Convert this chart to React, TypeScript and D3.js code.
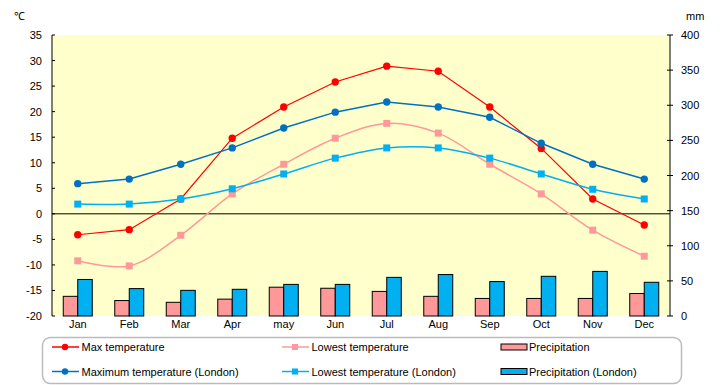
import React from "react";
import * as d3 from "d3";

const months = ["Jan", "Feb", "Mar", "Apr", "may", "Jun", "Jul", "Aug", "Sep", "Oct", "Nov", "Dec"];
const maxTemp = [-4.1, -3.1, 2.9, 14.8, 20.9, 25.8, 28.9, 27.9, 20.9, 12.8, 2.9, -2.2];
const minTemp = [-9.2, -10.2, -4.2, 3.9, 9.7, 14.8, 17.7, 15.8, 9.7, 3.9, -3.2, -8.3];
const maxLondon = [5.9, 6.8, 9.7, 12.9, 16.8, 19.9, 21.9, 20.9, 18.9, 13.8, 9.7, 6.8];
const minLondon = [1.9, 1.9, 2.9, 4.9, 7.8, 10.9, 12.9, 12.9, 10.9, 7.8, 4.8, 2.9];
const precip = [28, 22, 19.5, 24, 41, 39.5, 35, 28, 25, 25, 25, 32];
const precipLondon = [52, 39, 36.5, 38, 45, 45, 55, 59, 49, 56.5, 63.5, 48];
const tempTicks = [35, 30, 25, 20, 15, 10, 5, 0, -5, -10, -15, -20];
const mmTicks = [400, 350, 300, 250, 200, 150, 100, 50, 0];

const L = 52, R = 670, T = 35, B = 316;
const FONT = "'Liberation Sans', Arial, sans-serif";

export default function App() {
  const x = d3.scaleBand<string>().domain(months).range([L, R]).padding(0);
  const y = d3.scaleLinear().domain([-20, 35]).range([B, T]);
  const y2 = d3.scaleLinear().domain([0, 400]).range([B, T]);
  const cx = (i: number) => (x(months[i]) as number) + x.bandwidth() / 2;
  const bw = 14.5;

  const lineLin = d3.line<number>().x((_, i) => cx(i)).y((d) => y(d)).curve(d3.curveLinear);
  const lineSmooth = d3.line<number>().x((_, i) => cx(i)).y((d) => y(d)).curve(d3.curveCatmullRom.alpha(0.5));

  const series = [
    { data: maxTemp, color: "#FF0000", w: 1.2, shape: "circle", smooth: false },
    { data: minTemp, color: "#FF9999", w: 1.5, shape: "square", smooth: true },
    { data: maxLondon, color: "#0070C0", w: 1.5, shape: "circle", smooth: false },
    { data: minLondon, color: "#00B0F0", w: 1.5, shape: "square", smooth: true },
  ];

  const legend = [
    { label: "Max temperature", color: "#FF0000", type: "circle", x: 52, y: 347 },
    { label: "Lowest temperature", color: "#FF9999", type: "square", x: 282, y: 347 },
    { label: "Precipitation", color: "#FF9999", type: "rect", x: 501, y: 347 },
    { label: "Maximum temperature (London)", color: "#0070C0", type: "circle", x: 52, y: 371.5 },
    { label: "Lowest temperature (London)", color: "#00B0F0", type: "square", x: 282, y: 371.5 },
    { label: "Precipitation (London)", color: "#00B0F0", type: "rect", x: 501, y: 371.5 },
  ];

  return (
    <svg width={720} height={385} style={{ position: "absolute", left: 0, top: 0, background: "#fff" }} fontFamily={FONT} fontSize={11}>
      <rect x={L} y={T} width={R - L} height={B - T} fill="#FFFFCC" />
      {/* bars */}
      {months.map((m, i) => (
        <g key={m}>
          <rect x={cx(i) - bw} y={y2(precip[i])} width={bw} height={B - y2(precip[i])} fill="#FF9999" stroke="#000" strokeWidth={1} />
          <rect x={cx(i)} y={y2(precipLondon[i])} width={bw} height={B - y2(precipLondon[i])} fill="#00B0F0" stroke="#000" strokeWidth={1} />
        </g>
      ))}
      {/* zero line */}
      <line x1={L} x2={R} y1={y(0)} y2={y(0)} stroke="#000" strokeWidth={1} />
      {/* axes */}
      <line x1={L} x2={L} y1={T} y2={B} stroke="#000" strokeWidth={1} />
      <line x1={R} x2={R} y1={T} y2={B} stroke="#000" strokeWidth={1} />
      {tempTicks.map((t) => (
        <g key={t}>
          <line x1={L} x2={L + 3} y1={y(t)} y2={y(t)} stroke="#000" />
          <text x={42} y={y(t) + 4} textAnchor="end">{t}</text>
        </g>
      ))}
      {mmTicks.map((t) => (
        <g key={t}>
          <line x1={R - 3} x2={R + 3} y1={y2(t)} y2={y2(t)} stroke="#000" />
          <text x={681} y={y2(t) + 4} textAnchor="start">{t}</text>
        </g>
      ))}
      {months.map((m, i) => (
        <text key={m} x={cx(i)} y={328} textAnchor="middle">{m}</text>
      ))}
      <text x={14} y={20} fontSize={11}>℃</text>
      <text x={686} y={20} fontSize={11}>mm</text>
      {/* lines */}
      {series.map((s, k) => (
        <g key={k}>
          <path d={(s.smooth ? lineSmooth : lineLin)(s.data) as string} fill="none" stroke={s.color} strokeWidth={s.w} />
          {s.data.map((v, i) =>
            s.shape === "circle" ? (
              <circle key={i} cx={cx(i)} cy={y(v)} r={3.7} fill={s.color} />
            ) : (
              <rect key={i} x={cx(i) - 3.5} y={y(v) - 3.5} width={7} height={7} fill={s.color} />
            )
          )}
        </g>
      ))}
      {/* legend */}
      <rect x={42.5} y={337.5} width={639} height={46} rx={8} ry={8} fill="#fff" stroke="#BBBBBB" strokeWidth={1.5} />
      {legend.map((g, k) => (
        <g key={k}>
          {g.type === "rect" ? (
            <rect x={g.x} y={g.y - 3} width={26} height={6} fill={g.color} stroke="#000" strokeWidth={1} />
          ) : (
            <g>
              <line x1={g.x} x2={g.x + 27} y1={g.y} y2={g.y} stroke={g.color} strokeWidth={1.5} />
              {g.type === "circle" ? (
                <circle cx={g.x + 13} cy={g.y} r={3.2} fill={g.color} />
              ) : (
                <rect x={g.x + 10} y={g.y - 3} width={6} height={6} fill={g.color} />
              )}
            </g>
          )}
          <text x={g.x + (g.type === "rect" ? 28 : 29.5)} y={g.y + 4}>{g.label}</text>
        </g>
      ))}
    </svg>
  );
}
